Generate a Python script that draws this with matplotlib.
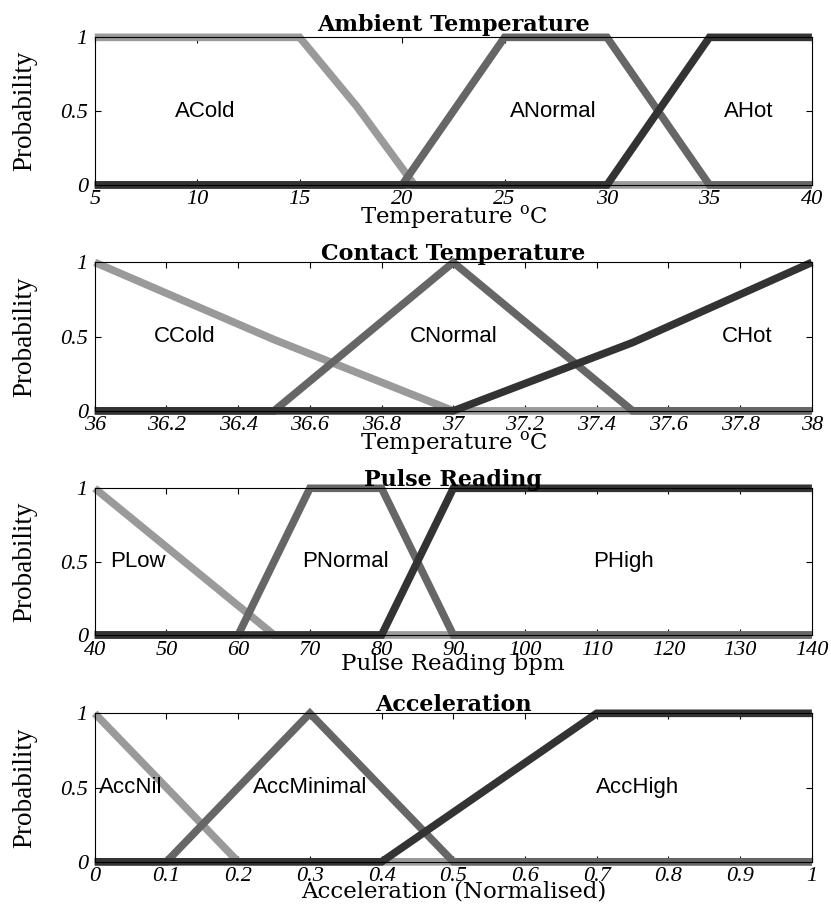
"""
Membership functions of the four fuzzy inputs (ambient temperature, contact temperature,
pulse reading and acceleration), drawn as four stacked panels in the MATLAB style.
"""

import numpy as np
from matplotlib import pyplot as plt

# Ambient temperature (degrees C).
ambient_x_ticks = [5, 10, 15, 20, 25, 30, 35, 40]
ambient_cold_x, ambient_cold_y = [5, 15, 17.8, 20.6, 40], [1, 1, 0.53, 0, 0]
ambient_normal_x, ambient_normal_y = [5, 20, 25, 30, 35, 40], [0, 0, 1, 1, 0, 0]
ambient_hot_x, ambient_hot_y = [5, 30, 35, 40], [0, 0, 1, 1]
ambient_labels = ['ACold', 'ANormal', 'AHot']
ambient_label_x = [10.4, 27.4, 36.9]

# Contact temperature (degrees C).
contact_x_ticks = [36, 36.2, 36.4, 36.6, 36.8, 37, 37.2, 37.4, 37.6, 37.8, 38]
contact_cold_x, contact_cold_y = [36, 36.5, 37, 38], [1, 0.48, 0, 0]
contact_normal_x, contact_normal_y = [36, 36.5, 37, 37.5, 38], [0, 0, 1, 0, 0]
contact_hot_x, contact_hot_y = [36, 37, 37.5, 38], [0, 0, 0.46, 1]
contact_labels = ['CCold', 'CNormal', 'CHot']
contact_label_x = [36.25, 37.0, 37.82]

# Pulse reading (bpm).
pulse_x_ticks = [40, 50, 60, 70, 80, 90, 100, 110, 120, 130, 140]
pulse_low_x, pulse_low_y = [40, 65, 140], [1, 0, 0]
pulse_normal_x, pulse_normal_y = [40, 60, 70, 80, 90, 140], [0, 0, 1, 1, 0, 0]
pulse_high_x, pulse_high_y = [40, 80, 90, 140], [0, 0, 1, 1]
pulse_labels = ['PLow', 'PNormal', 'PHigh']
pulse_label_x = [46, 75, 113.8]

# Acceleration (normalised).
accel_x_ticks = [0, 0.1, 0.2, 0.3, 0.4, 0.5, 0.6, 0.7, 0.8, 0.9, 1]
accel_nil_x, accel_nil_y = [0, 0.2, 1], [1, 0, 0]
accel_minimal_x, accel_minimal_y = [0, 0.1, 0.3, 0.5, 1], [0, 0, 1, 0, 0]
accel_high_x, accel_high_y = [0, 0.4, 0.7, 1], [0, 0, 1, 1]
accel_labels = ['AccNil', 'AccMinimal', 'AccHigh']
accel_label_x = [0.05, 0.30, 0.757]

tick_labels_y = ['0', '0.5', '1']
shades = ['#9a9a9a', '#666666', '#333333']

plt.rcParams['mathtext.fontset'] = 'custom'
plt.rcParams['mathtext.rm'] = 'DejaVu Serif'


def fmt_tick(v):
    """ MATLAB style tick label: no trailing zeros. """
    return ('%g' % v)


def membership_panel(ax, curves, x_ticks, labels, label_x, title, x_label, title_pad):
    """ Draw one panel of three membership functions, light to dark, in 'ax'.

    :param curves: List of (x, y) pairs, lightest shade first.
    :return: None.
    """
    for (x, y), c in zip(curves, shades):
        ax.plot(x, y, color=c, lw=5.5, solid_capstyle='butt', solid_joinstyle='miter', clip_on=False)

    for t, xp in zip(labels, label_x):
        ax.text(xp, 0.5, t, ha='center', va='center', fontsize=16, family='Liberation Sans')

    ax.set_xlim(x_ticks[0], x_ticks[-1]), ax.set_ylim(0, 1)
    ax.set_xticks(x_ticks)
    ax.set_xticklabels([fmt_tick(v) for v in x_ticks], family='Liberation Serif', style='italic', fontsize=16)
    ax.set_yticks([0, 0.5, 1])
    ax.set_yticklabels(tick_labels_y, family='Liberation Serif', style='italic', fontsize=16)
    ax.tick_params(direction='in', top=True, right=True, length=4, width=0.8)
    ax.tick_params(axis='x', pad=4), ax.tick_params(axis='y', pad=5)

    ax.set_title(title, family='DejaVu Serif', weight='bold', fontsize=16, pad=title_pad)
    ax.set_xlabel(x_label, family='DejaVu Serif', fontsize=16.5)
    ax.xaxis.set_label_coords(0.5, -0.125)
    ax.set_ylabel('Probability', family='Liberation Serif', fontsize=19.5)
    ax.yaxis.set_label_coords(-0.08, 0.5)


fig = plt.figure(figsize=(8.31, 9.11), dpi=100)

# Axes rectangles measured off the target layout, top panel first.
boxes = [[0.114, 0.797, 0.863, 0.162],
         [0.114, 0.549, 0.863, 0.163],
         [0.114, 0.303, 0.863, 0.161],
         [0.114, 0.054, 0.863, 0.163]]
title_pads = [4.5, 1.5, 1.5, 1.5]

panels = [
    ([(ambient_cold_x, ambient_cold_y), (ambient_normal_x, ambient_normal_y), (ambient_hot_x, ambient_hot_y)],
     ambient_x_ticks, ambient_labels, ambient_label_x, 'Ambient Temperature', 'Temperature $^\\mathrm{o}$C'),
    ([(contact_cold_x, contact_cold_y), (contact_normal_x, contact_normal_y), (contact_hot_x, contact_hot_y)],
     contact_x_ticks, contact_labels, contact_label_x, 'Contact Temperature', 'Temperature $^\\mathrm{o}$C'),
    ([(pulse_low_x, pulse_low_y), (pulse_normal_x, pulse_normal_y), (pulse_high_x, pulse_high_y)],
     pulse_x_ticks, pulse_labels, pulse_label_x, 'Pulse Reading', 'Pulse Reading bpm'),
    ([(accel_nil_x, accel_nil_y), (accel_minimal_x, accel_minimal_y), (accel_high_x, accel_high_y)],
     accel_x_ticks, accel_labels, accel_label_x, 'Acceleration', 'Acceleration (Normalised)'),
]

for box, p, tp in zip(boxes, panels, title_pads):
    membership_panel(fig.add_axes(box), *p, tp)

fig.savefig('out.png', dpi=100)
